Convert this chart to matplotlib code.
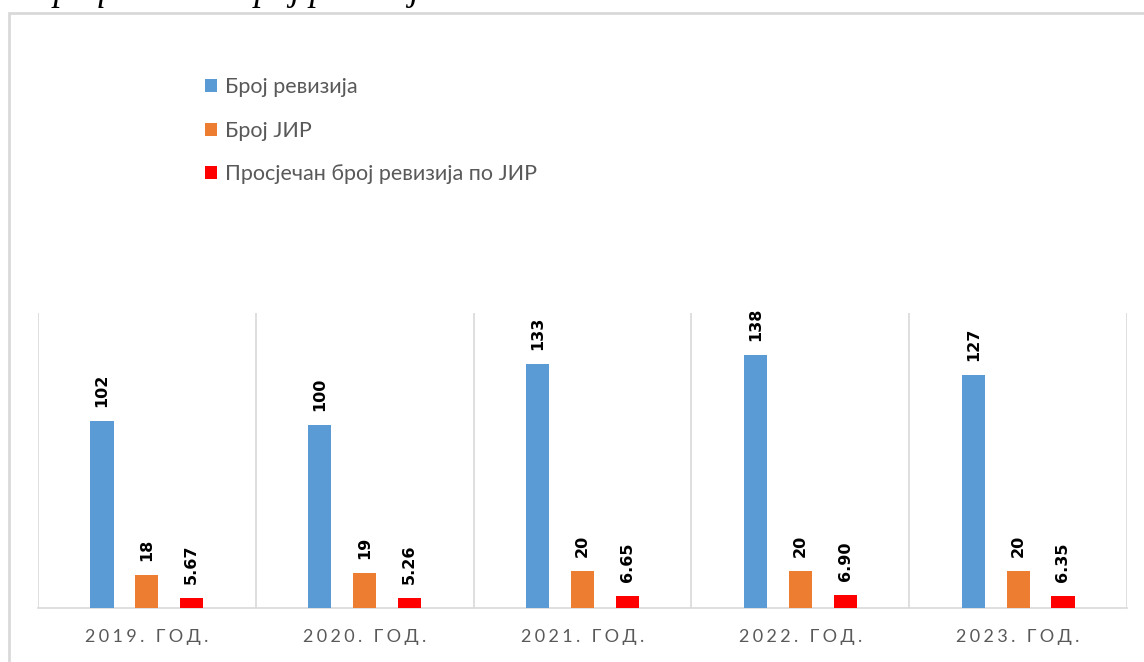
import matplotlib.pyplot as plt
from matplotlib.patches import Patch, Rectangle
import numpy as np

# Подаци
godine = ['2019. ГОД.', '2020. ГОД.', '2021. ГОД.', '2022. ГОД.', '2023. ГОД.']
broj_revizija = [102, 100, 133, 138, 127]
broj_jir = [18, 19, 20, 20, 20]
prosjek = [5.67, 5.26, 6.65, 6.90, 6.35]
prosjek_labels = ['5.67', '5.26', '6.65', '6.90', '6.35']
nazivi = ['Број ревизија', 'Број ЈИР', 'Просјечан број ревизија по ЈИР']
boje = ['#5B9BD5', '#ED7D31', '#FF0000']


def razmak(s):
    # razmak izmedju slova (letter spacing)
    return '\u2009\u200a'.join(s)


def main():
    fig = plt.figure(figsize=(11.44, 6.62), dpi=100)
    fig.patch.set_facecolor('white')

    # okvir grafikona
    fig.patches.append(Rectangle((9 / 1144, -0.05), 1.1, 0.05 + 1 - 13 / 662,
                                 transform=fig.transFigure, fill=False,
                                 edgecolor='#d9d9d9', linewidth=2))
    # odsjeceni naslov iznad okvira (vide se samo donji dijelovi slova)
    fig.text(0.03, 1.0, 'Графикон 2: Број ревизија',
             family='Liberation Serif', style='italic', fontsize=26,
             ha='left', va='baseline', color='black')

    ax = fig.add_axes([38 / 1144, 1 - 608 / 662, (1127 - 38) / 1144, (608 - 313) / 662])
    x = np.arange(len(godine))
    w = 0.106
    pomak = 0.206
    serije = [broj_revizija, broj_jir, prosjek]
    oznake = [[str(v) for v in broj_revizija], [str(v) for v in broj_jir], prosjek_labels]
    for k, (vals, lab) in enumerate(zip(serije, oznake)):
        pos = x + (k - 1) * pomak
        ax.bar(pos, vals, width=w, color=boje[k], zorder=3)
        for p, v, t in zip(pos, vals, lab):
            ax.annotate(t, (p, v), xytext=(0, 10), textcoords='offset points',
                        rotation=90, ha='center', va='bottom', fontsize=11.5,
                        fontweight='bold', color='black')

    ax.set_xlim(-0.5, len(godine) - 0.5)
    ax.set_ylim(0, 161)
    for b in np.arange(-0.5, len(godine), 1.0):
        ax.axvline(b, color='#d9d9d9', linewidth=1.2, zorder=1)
    for s in ['top', 'right', 'left']:
        ax.spines[s].set_visible(False)
    ax.spines['bottom'].set_color('#d9d9d9')
    ax.spines['bottom'].set_linewidth(1.2)
    ax.set_yticks([])
    ax.set_xticks(x)
    ax.set_xticklabels([razmak(g) for g in godine], color='#595959', fontsize=13,
                       family=['Lato', 'DejaVu Sans'])
    ax.tick_params(axis='x', length=0, pad=15)

    handles = [Patch(facecolor=c, edgecolor='none') for c in boje]
    leg = fig.legend(handles, nazivi, loc='upper left', bbox_to_anchor=(205 / 1144, 1 - 77 / 662),
                     frameon=False, handlelength=0.55, handleheight=0.55,
                     handletextpad=0.4, labelspacing=1.1, borderpad=0, borderaxespad=0,
                     prop={'family': 'Lato', 'size': 15.5})
    for t in leg.get_texts():
        t.set_color('#595959')

    fig.savefig('out.png', dpi=100)
    print("Đã tạo biểu đồ thành công!")


if __name__ == "__main__":
    main()
